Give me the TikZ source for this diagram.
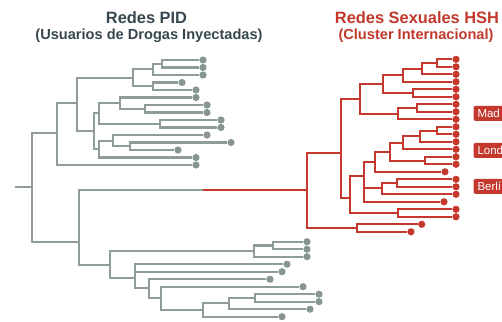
\documentclass[tikz,border=0pt]{standalone}
\usepackage{fontspec}
\setmainfont{Liberation Sans}
\definecolor{treegray}{HTML}{8E9D9A}
\definecolor{dotgray}{HTML}{879693}
\definecolor{treered}{HTML}{C4382D}
\definecolor{titledark}{HTML}{37474F}
\definecolor{titlered}{HTML}{C0392B}
\begin{document}
\begin{tikzpicture}[x=1pt,y=-1pt,
  gedge/.style={draw=treegray,line width=2.1pt},
  redge/.style={draw=treered,line width=2.1pt},
  gdot/.style={circle,fill=dotgray,inner sep=0pt,minimum size=7.2pt},
  rdot/.style={circle,fill=treered,inner sep=0pt,minimum size=7.2pt},
  city/.style={fill=treered,text=white,rounded corners=1.5pt,anchor=west,
    minimum height=15pt,inner xsep=4pt,inner ysep=0pt,text width=34pt,
    align=left,font=\fontsize{11.5}{12}\selectfont},
  maintitle/.style={anchor=base,font=\bfseries\fontsize{16.4}{18}\selectfont},
  subtitle/.style={anchor=base,font=\bfseries\fontsize{14.6}{16}\selectfont}]
\useasboundingbox (0,0) rectangle (502,321);
\clip (0,0) rectangle (502,321);

% ---- titles
\node[maintitle,text=titledark] (tpid) at (146.5,24) {Redes PID};
\node[subtitle,text=titledark] (spid) at (149,40) {(Usuarios de Drogas Inyectadas)};
\node[maintitle,text=titlered] (thsh) at (417,24) {Redes Sexuales HSH};
\node[subtitle,text=titlered] (shsh) at (416,40) {(Cluster Internacional)};

% ---- gray tree: internal nodes
\coordinate (stub) at (15,187);
\coordinate (R0) at (32.3,187);
\coordinate (U1) at (57.3,133.3);
\coordinate (U2) at (77.3,103.3);
\coordinate (U3) at (132.7,77.8);
\coordinate (U5) at (152.7,69.4);
\coordinate (U7) at (161.7,63.75);
\coordinate (U6) at (153.3,86.25);
\coordinate (U4) at (94,131);
\coordinate (U8) at (99.3,113);
\coordinate (U10) at (120,103.1);
\coordinate (U12) at (145,108.75);
\coordinate (U11) at (160,123.75);
\coordinate (U9) at (99.3,149);
\coordinate (U13) at (113.3,140.6);
\coordinate (U14) at (130,146.25);
\coordinate (N2) at (79,241.7);
\coordinate (N3) at (110,265);
\coordinate (C123) at (254,251);
\coordinate (C12) at (272.7,245.5);
\coordinate (N4) at (135,278.3);
\coordinate (N5) at (149.3,288.3);
\coordinate (N6) at (161,298.3);
\coordinate (N7) at (203.3,310);
\coordinate (N8) at (229.3,303.3);
\coordinate (N9) at (255,297.7);
\coordinate (mid) at (203,190);

% ---- gray tree: leaves
\node[gdot] (g1) at (203,60) {};
\node[gdot] (g2) at (203,67.5) {};
\node[gdot] (g3) at (203,75) {};
\node[gdot] (g4) at (182,82.5) {};
\node[gdot] (g5) at (196,90) {};
\node[gdot] (g6) at (196,97.5) {};
\node[gdot] (g7) at (207,105) {};
\node[gdot] (g8) at (207,112.5) {};
\node[gdot] (g9) at (221,120) {};
\node[gdot] (g10) at (221,127.5) {};
\node[gdot] (g11) at (207,135) {};
\node[gdot] (g12) at (231,142.5) {};
\node[gdot] (g13) at (178,150) {};
\node[gdot] (g14) at (196,157.5) {};
\node[gdot] (g15) at (196,165) {};
\node[gdot] (L1) at (307,241.7) {};
\node[gdot] (L2) at (307,249.2) {};
\node[gdot] (L3) at (307,256.7) {};
\node[gdot] (L4) at (287,264.2) {};
\node[gdot] (L5) at (282,271.7) {};
\node[gdot] (L6) at (270,279.2) {};
\node[gdot] (L7) at (303,286.7) {};
\node[gdot] (L8) at (319,294.2) {};
\node[gdot] (L9) at (319,301.7) {};
\node[gdot] (L10) at (310,309.2) {};
\node[gdot] (L11) at (282,316.7) {};

% ---- gray tree: branches
\draw[gedge] (stub) -- (R0);
\foreach \p/\c in {R0/U1,R0/N2,U1/U2,U1/g15,U2/U3,U2/U4,U3/U5,U3/U6,
  U5/U7,U5/g3,U7/g1,U7/g2,U6/g4,U6/g5,U4/U8,U4/U9,U8/U10,U8/U11,
  U10/g6,U10/U12,U12/g7,U12/g8,U11/g9,U11/g10,U9/U13,U9/g14,
  U13/g11,U13/U14,U14/g12,U14/g13,
  N2/mid,N2/N3,N3/C123,N3/N4,C123/C12,C123/L3,C12/L1,C12/L2,
  N4/L4,N4/L5,N4/N5,N5/L6,N5/N6,N6/L7,N6/N7,N7/N8,N7/L11,
  N8/N9,N8/L10,N9/L8,N9/L9}
  \draw[gedge] (\p) |- (\c);

% ---- red tree: internal nodes
\coordinate (R) at (307,190);
\coordinate (D) at (341,152.7);
\coordinate (P2324) at (356.7,228.3);
\coordinate (T) at (360,98.8);
\coordinate (T1) at (383.3,84);
\coordinate (T3) at (402.7,75.2);
\coordinate (T5) at (421.7,68.7);
\coordinate (T6) at (437.3,63);
\coordinate (T4) at (413.3,93);
\coordinate (T2) at (398.3,113.7);
\coordinate (T7) at (416.7,108);
\coordinate (C) at (350,198);
\coordinate (B) at (364,176);
\coordinate (Q) at (375,161.7);
\coordinate (Q2) at (390,151.7);
\coordinate (Q3) at (403.3,142.8);
\coordinate (Q5) at (420,136.2);
\coordinate (Q6) at (436.7,130.6);
\coordinate (Q4) at (425,160.6);
\coordinate (A) at (381.7,188.4);
\coordinate (A2) at (396.7,183);
\coordinate (P2122) at (398.3,213);

% ---- red tree: leaves
\foreach \i/\y in {1/59.3,2/66.8,3/74.3,4/81.8,5/89.3,6/96.8,7/104.3,8/111.8,
  9/119.3,10/126.8,11/134.3,12/141.8,13/149.3,14/156.8,15/164.3,
  17/179.3,18/186.8,19/194.3,21/209.3,22/216.8}
  \node[rdot] (r\i) at (456,\y) {};
\node[rdot] (r16) at (445,171.8) {};
\node[rdot] (r20) at (444,201.8) {};
\node[rdot] (r23) at (421.7,224.3) {};
\node[rdot] (r24) at (411,231.8) {};

% ---- red tree: branches
\draw[redge] (mid) -- (R);
\foreach \p/\c in {R/D,R/P2324,P2324/r23,P2324/r24,D/T,D/C,
  T/T1,T/T2,T1/T3,T1/T4,T3/T5,T3/r4,T5/T6,T5/r3,T6/r1,T6/r2,T4/r5,T4/r6,
  T2/T7,T2/r9,T7/r7,T7/r8,
  C/B,C/P2122,P2122/r21,P2122/r22,B/Q,B/A,B/r20,
  A/A2,A/r19,A2/r17,A2/r18,
  Q/Q2,Q/r16,Q2/Q3,Q2/Q4,Q4/r14,Q4/r15,Q3/Q5,Q3/r13,Q5/Q6,Q5/r12,Q6/r10,Q6/r11}
  \draw[redge] (\p) |- (\c);

% ---- city labels (boxes run on past the right edge)
\node[city] (madrid) at (473.3,113.3) {Mad};
\node[city] (londres) at (473.3,150.3) {Lond};
\node[city] (berlin) at (473.3,186.3) {Berlí};
\end{tikzpicture}
\end{document}
